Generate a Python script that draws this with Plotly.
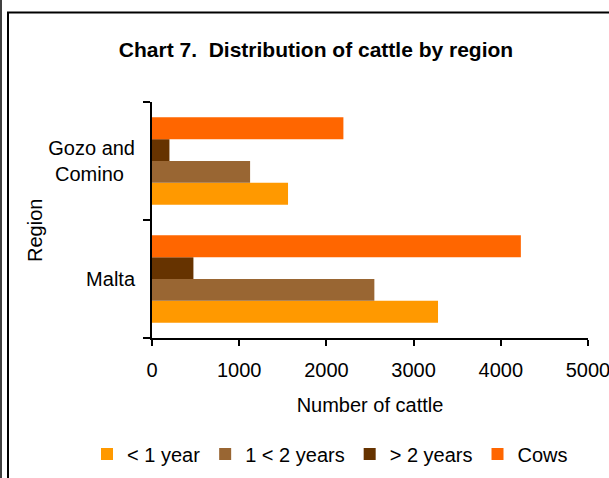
import plotly.graph_objects as go

regions = ["Malta", "Gozo and<br>Comino\u00a0\u00a0"]
series_names = ["< 1 year", "1 < 2 years", "> 2 years", "Cows"]
under_1_year = [3280, 1560]
one_to_2_years = [2550, 1125]
over_2_years = [475, 200]
cows = [4230, 2195]
series_values = [under_1_year, one_to_2_years, over_2_years, cows]
colors = ["#FF9900", "#996633", "#663300", "#FF6600"]
x_ticks = [0, 1000, 2000, 3000, 4000, 5000]

W, H = 609, 478
L, R, T, B = 152, 21, 102, 140
pw, ph = W - L - R, H - T - B

def px(xp):
    return (xp - L) / pw

def py(yp):
    return (H - B - yp) / ph

FONT = "Liberation Sans, Arial, sans-serif"

fig = go.Figure()
for name, vals, col in zip(series_names, series_values, colors):
    fig.add_trace(go.Bar(y=regions, x=vals, name=name, orientation="h",
                         marker=dict(color=col, line=dict(width=0))))

frame = dict(color="black", width=2)
shapes = [
    dict(type="line", xref="paper", yref="paper", x0=px(1), x1=px(1), y0=py(-2), y1=py(H + 2), line=dict(color="black", width=1.5)),
    dict(type="line", xref="paper", yref="paper", x0=px(8), x1=px(8), y0=py(12.5), y1=py(H + 2), line=frame),
    dict(type="line", xref="paper", yref="paper", x0=px(7), x1=px(W + 2), y0=py(12.5), y1=py(12.5), line=frame),
]

fig.update_layout(
    width=W, height=H,
    margin=dict(l=L, r=R, t=T, b=B, autoexpand=False),
    paper_bgcolor="white", plot_bgcolor="white",
    font=dict(family=FONT, size=20, color="black"),
    barmode="group", bargap=0.26, bargroupgap=0,
    title=dict(text="<b>Chart 7.\u00a0 Distribution of cattle by region</b>",
               xref="container", x=316 / W, xanchor="center",
               yref="container", y=1 - 50 / H, yanchor="middle",
               font=dict(size=21, family=FONT)),
    xaxis=dict(range=[0, 5000], tickvals=x_ticks, ticktext=[str(v) for v in x_ticks],
               showgrid=False, zeroline=False, showline=True, linecolor="black", linewidth=2,
               ticks="outside", ticklen=6, tickwidth=2, tickcolor="black",
               ticklabelstandoff=7, ticklabeloverflow="allow",
               title=dict(text="Number of cattle", standoff=18, font=dict(size=20))),
    yaxis=dict(showgrid=False, zeroline=False, showline=True, linecolor="black", linewidth=2,
               ticks="outside", ticklen=7, tickwidth=2, tickcolor="black", tickson="boundaries",
               ticklabelstandoff=11),
    legend=dict(orientation="h", xref="paper", x=px(87), xanchor="left",
                yref="paper", y=py(454), yanchor="middle",
                font=dict(size=20), traceorder="normal", itemwidth=30),
    annotations=[dict(text="Region", textangle=-90, xref="paper", yref="paper",
                      x=px(35), y=py(231), xanchor="center", yanchor="middle",
                      showarrow=False, font=dict(size=20))],
    shapes=shapes,
)

fig.write_html("out.html", config={"displayModeBar": False},
               post_script="document.body.style.margin='0';document.body.style.overflow='hidden';")
